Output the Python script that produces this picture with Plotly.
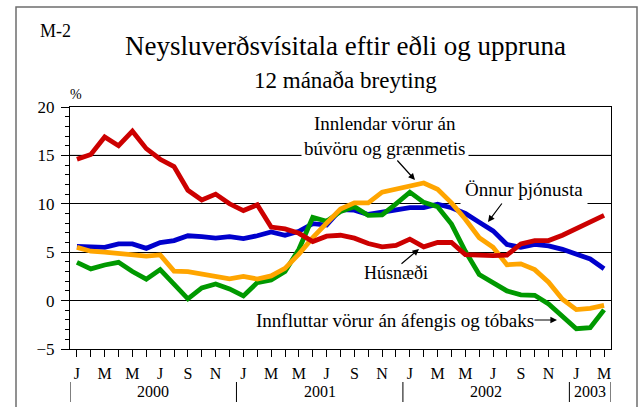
import plotly.graph_objects as go

# ---- data ----
years = [2000, 2001, 2002, 2003]
month_letters = ["J", "F", "M", "A", "M", "J", "J", "A", "S", "O", "N", "D"]
periods = [f"{y}-{m:02d}" for y in (2000, 2001, 2002) for m in range(1, 13)] + ["2003-01", "2003-02", "2003-03"]

husnaedi = [14.6, 15.1, 16.9, 16.0, 17.5, 15.7, 14.6, 13.85, 11.4, 10.4,
            11.0, 10.0, 9.3, 9.9, 7.6, 7.4, 6.95, 6.1, 6.65, 6.75,
            6.45, 5.9, 5.55, 5.7, 6.35, 5.55, 6.0, 6.0, 4.75, 4.65,
            4.65, 4.7, 5.85, 6.2, 6.2, 6.75, 7.4, 8.15, 8.8]
onnur_thjonusta = [5.6, 5.55, 5.5, 5.85, 5.85, 5.4, 6.0, 6.2, 6.7, 6.6,
                   6.45, 6.6, 6.4, 6.7, 7.1, 6.75, 7.15, 7.95, 7.8, 9.4,
                   9.35, 8.9, 9.1, 9.35, 9.6, 9.6, 9.95, 9.6, 9.0, 8.1,
                   7.2, 5.8, 5.5, 5.8, 5.65, 5.3, 4.8, 4.3, 3.3]
innlendar = [5.5, 5.1, 5.0, 4.87, 4.72, 4.6, 4.72, 3.05, 3.0, 2.75,
             2.47, 2.25, 2.5, 2.23, 2.55, 3.33, 4.8, 6.5, 8.0, 9.45,
             10.1, 10.1, 11.2, 11.5, 11.83, 12.15, 11.5, 10.1, 8.4, 6.5,
             5.5, 3.7, 3.8, 3.2, 1.9, 0.15, -0.93, -0.8, -0.5]
innfluttar = [3.95, 3.28, 3.68, 3.95, 3.0, 2.22, 3.2, 1.7, 0.18, 1.32,
              1.72, 1.2, 0.48, 1.86, 2.13, 3.0, 5.3, 8.6, 8.2, 9.2,
              9.7, 8.8, 8.85, 10.0, 11.2, 10.15, 9.7, 7.9, 5.1, 2.7,
              1.9, 1.0, 0.6, 0.55, -0.35, -1.65, -2.9, -2.8, -0.96]

tick_text = [month_letters[int(p[5:]) - 1] if int(p[5:]) % 2 == 1 else "" for p in periods]

# ---- layout helpers (pixel -> paper) ----
W, H = 639, 407
L, R, T, B = 70, 611, 107, 349
def px(x):
    return (x - L) / (R - L)
def py(y):
    return (B - y) / (B - T)

SERIF = "Liberation Serif"

fig = go.Figure()
series = [
    (onnur_thjonusta, "#0000cc"),
    (innfluttar, "#009900"),
    (innlendar, "#ffa500"),
    (husnaedi, "#cc0000"),
]
for vals, col in series:
    fig.add_trace(go.Scatter(x=periods, y=vals, mode="lines",
                             line=dict(color=col, width=4.8), showlegend=False,
                             hoverinfo="skip"))

shapes = []
# gray gridline at 15
shapes.append(dict(type="line", xref="paper", yref="y", x0=0, x1=1, y0=15, y1=15,
                   line=dict(color="#808080", width=1.2), layer="between"))
# outer frame
shapes.append(dict(type="rect", xref="paper", yref="paper", x0=px(16), x1=px(637),
                   y0=py(425), y1=py(7), line=dict(color="#6e6e6e", width=1.5),
                   fillcolor="rgba(0,0,0,0)", layer="above"))
# year separators
n = len(periods)
seps = [-0.5] + [i - 0.5 for i, p in enumerate(periods) if p.endswith("-01") and i > 0] + [n - 0.5]
for s in seps:
    shapes.append(dict(type="line", xref="x", yref="paper", x0=s, x1=s,
                       y0=py(382), y1=py(402), line=dict(color="black", width=1)))

annotations = []
# year labels centered in each year span
for i, y in enumerate(years):
    idx = [k for k, p in enumerate(periods) if p.startswith(str(y))]
    annotations.append(dict(x=(idx[0] + idx[-1]) / 2, y=py(391), xref="x", yref="paper",
                            text=str(y), showarrow=False, font=dict(size=16, family=SERIF, color="black"),
                            xanchor="center", yanchor="middle"))

def txt(x, y, t, size, **kw):
    d = dict(x=px(x), y=py(y), xref="paper", yref="paper", text=t, showarrow=False,
             font=dict(size=size, family=SERIF, color="black"), xanchor="center", yanchor="middle")
    d.update(kw)
    annotations.append(d)

def arrow(hx, hy, tx, ty):
    annotations.append(dict(x=px(hx), y=py(hy), xref="paper", yref="paper", text="",
                            showarrow=True, ax=tx - hx, ay=ty - hy, arrowhead=2,
                            arrowsize=1.1, arrowwidth=1.2, arrowcolor="black"))

txt(345, 46, "Neysluverðsvísitala eftir eðli og uppruna", 27)
txt(345, 80, "12 mánaða breyting", 23)
txt(55, 31, "M-2", 18)
txt(76, 95, "%", 14)
txt(385, 136, "Innlendar vörur án<br>búvöru og grænmetis", 19, bgcolor="white", borderpad=2)
txt(524, 189, "Önnur þjónusta", 19, bgcolor="white", borderpad=4)
txt(396, 273, "Húsnæði", 18)
txt(395, 320, "Innfluttar vörur án áfengis og tóbaks", 19)
arrow(415, 180, 396, 159)
arrow(488, 222, 503, 202)
arrow(419, 249, 400, 265)
arrow(557, 320, 533, 320)

fig.update_layout(
    width=W, height=H,
    margin=dict(l=L, r=W - R, t=T, b=H - B),
    paper_bgcolor="white", plot_bgcolor="white",
    shapes=shapes, annotations=annotations,
    font=dict(family=SERIF, color="black"),
)
fig.update_xaxes(type="category", categoryorder="array", categoryarray=periods,
                 range=[-0.5, n - 0.5], tickmode="array", tickvals=periods, ticktext=tick_text,
                 ticks="outside", ticklen=7, tickcolor="black", tickwidth=1,
                 showline=True, linecolor="black", linewidth=1.2, mirror=True,
                 showgrid=False, tickfont=dict(size=16, family=SERIF, color="black"),
                 ticklabelstandoff=3)
fig.update_yaxes(range=[-5, 20], tickmode="linear", tick0=-5, dtick=5,
                 ticks="outside", ticklen=8, tickcolor="black", tickwidth=1,
                 minor=dict(dtick=1, ticks="outside", ticklen=4, tickcolor="black", showgrid=False),
                 showline=True, linecolor="black", linewidth=1.2, mirror=True,
                 showgrid=True, gridcolor="black", gridwidth=1, zeroline=False,
                 tickfont=dict(size=17, family=SERIF, color="black"), ticklabelstandoff=3)

fig.write_html("out.html", config={"displayModeBar": False},
               post_script="document.body.style.margin='0px';")
